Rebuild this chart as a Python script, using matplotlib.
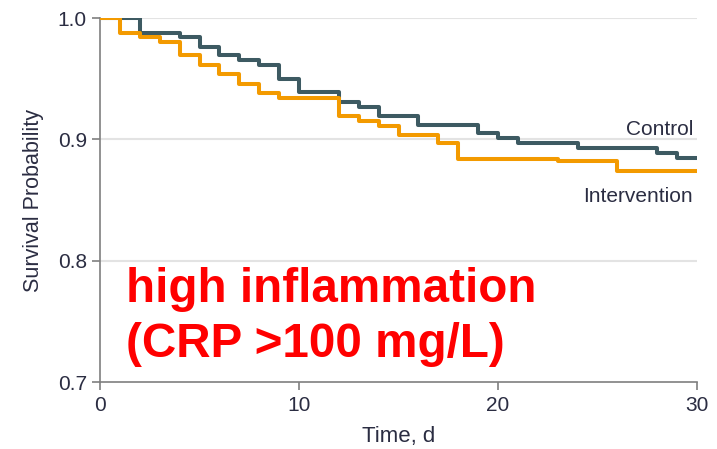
import matplotlib.pyplot as plt

# Kaplan-Meier step values (day, survival probability)
control_days = [0, 2, 4, 5, 6, 7, 8, 9, 10, 12, 13, 14, 16, 19, 20, 21, 24, 28, 29, 30]
control_surv = [1.0, 0.988, 0.984, 0.976, 0.9695, 0.965, 0.961, 0.950, 0.939, 0.931,
                0.927, 0.919, 0.912, 0.905, 0.901, 0.897, 0.8925, 0.889, 0.885, 0.885]

interv_days = [0, 1, 2, 3, 4, 5, 6, 7, 8, 9, 12, 13, 14, 15, 17, 18, 23, 26, 30]
interv_surv = [1.0, 0.988, 0.984, 0.980, 0.9695, 0.961, 0.954, 0.946, 0.938, 0.934,
               0.919, 0.915, 0.911, 0.9035, 0.897, 0.884, 0.882, 0.874, 0.874]

x_ticks = [0, 10, 20, 30]
y_ticks = [0.7, 0.8, 0.9, 1.0]
grid_levels = [0.8, 0.9, 1.0]

plt.rcParams["font.family"] = ["Liberation Sans", "DejaVu Sans"]

TEXT = "#2b2d42"
AXIS = "#7f7f7f"

fig = plt.figure(figsize=(7.17, 4.49), dpi=100)
ax = fig.add_axes([0.1395, 0.1492, 0.8326, 0.8107])

for y in grid_levels:
    ax.plot([0, 30], [y, y], color="#e3e3e3", lw=1.5, zorder=1)

ax.step(control_days, control_surv, where="post", color="#3d5a62", lw=2.9, zorder=3)
ax.step(interv_days, interv_surv, where="post", color="#f39a00", lw=2.9, zorder=4)

ax.text(29.8, 0.9035, "Control", ha="right", va="baseline", fontsize=15, color=TEXT)
ax.text(29.8, 0.8486, "Intervention", ha="right", va="baseline", fontsize=15, color=TEXT)

ax.text(1.3, 0.7659, "high inflammation", ha="left", va="baseline",
        fontsize=34.3, fontweight="bold", color="#ff0000", zorder=5)
ax.text(1.3, 0.7205, "(CRP >100 mg/L)", ha="left", va="baseline",
        fontsize=34.3, fontweight="bold", color="#ff0000", zorder=5)

ax.set_xlim(0, 30)
ax.set_ylim(0.7, 1.0)
ax.set_xticks(x_ticks)
ax.set_yticks(y_ticks)
ax.set_yticklabels([f"{v:.1f}" for v in y_ticks])

for side in ["top", "right"]:
    ax.spines[side].set_visible(False)
for side in ["left", "bottom"]:
    ax.spines[side].set_color(AXIS)
    ax.spines[side].set_linewidth(1.2)

ax.tick_params(axis="y", direction="out", length=6, width=1.2, color=AXIS,
               labelsize=15, labelcolor=TEXT, pad=3.5)
ax.tick_params(axis="x", direction="out", length=6, width=1.2, color=AXIS,
               labelsize=15, labelcolor=TEXT, pad=4)

ax.set_xlabel("Time, d", fontsize=16, color=TEXT, labelpad=8)
ax.set_ylabel("Survival Probability", fontsize=15.5, color=TEXT, labelpad=10)

fig.savefig("out.png", dpi=100)
